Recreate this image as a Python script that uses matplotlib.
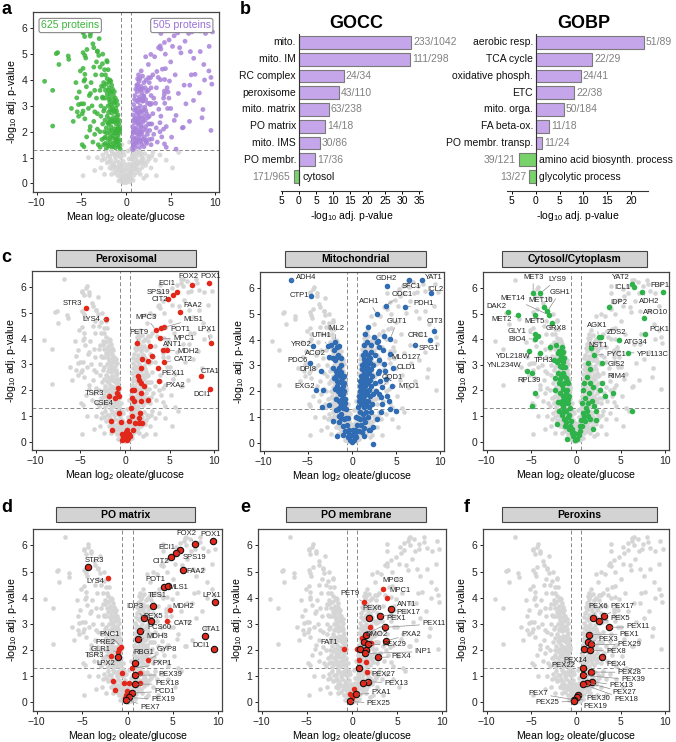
import matplotlib.pyplot as plt
from matplotlib.patches import Rectangle

plt.rcParams['font.family'] = ['Liberation Sans', 'DejaVu Sans']
plt.rcParams['mathtext.fontset'] = 'custom'
plt.rcParams['mathtext.rm'] = 'Liberation Sans'
plt.rcParams['mathtext.it'] = 'Liberation Sans:italic'
plt.rcParams['mathtext.bf'] = 'Liberation Sans:bold'
plt.rcParams['mathtext.default'] = 'regular'

# ---------------- panel b: GO enrichment ----------------
gocc_terms = ['mito.', 'mito. IM', 'RC complex', 'peroxisome', 'mito. matrix',
              'PO matrix', 'mito. IMS', 'PO membr.', 'cytosol']
gocc_vals = [32.7, 32.4, 13.0, 11.6, 8.7, 7.7, 6.0, 4.8, -1.45]
gocc_counts = ['233/1042', '111/298', '24/34', '43/110', '63/238', '14/18',
               '30/86', '17/36', '171/965']

gobp_terms = ['aerobic resp.', 'TCA cycle', 'oxidative phosph.', 'ETC', 'mito. orga.',
              'FA beta-ox.', 'PO membr. transp.', 'amino acid biosynth. process',
              'glycolytic process']
gobp_vals = [22.6, 11.8, 9.4, 8.1, 5.9, 2.85, 1.4, -3.5, -1.3]
gobp_counts = ['51/89', '22/29', '24/41', '22/38', '50/184', '11/18', '11/24',
               '39/121', '13/27']

# ---------------- all quantified proteins (mean log2 ratio, -log10 adj p) ----------------
background = [
    # far left
    (-9.1, 3.95), (-8.2, 3.6), (-8.2, 2.22), (-7.8, 5.02), (-7.5, 4.6), (-6.4, 4.8),
    (-4.8, 5.86), (-4.4, 5.95), (-4.0, 5.7), (-3.7, 5.4), (-3.2, 5.12), (-4.8, 5.06),
    (-4.5, 4.85), (-5.1, 4.35), (-4.8, 4.45), (-4.7, 3.96), (-5.5, 3.31), (-5.3, 3.05),
    (-5.0, 3.08), (-4.8, 2.8), (-4.2, 2.9), (-4.6, 2.5), (-5.3, 2.6), (-4.0, 2.2),
    (-4.9, 1.5), (-4.7, 1.42), (-3.7, 1.6), (-3.4, 4.2), (-3.9, 3.9), (-3.5, 3.6),
    (-4.1, 3.4), (-3.3, 3.3), (-3.8, 3.0), (-3.2, 2.7), (-3.6, 2.4), (-3.2, 2.1),
    (-3.5, 1.9), (-3.1, 1.5), (-5.9, 2.4), (-4.4, 1.8), (-3.3, 4.7), (-3.0, 5.6),
    (-4.3, 6.05), (-3.6, 4.5), (-5.6, 3.9), (-6.1, 2.9),
    # left arm, outer
    (-2.9, 1.4), (-2.7, 1.7), (-2.9, 2.0), (-2.6, 2.3), (-2.8, 2.6), (-2.5, 2.8),
    (-2.8, 3.0), (-2.6, 3.3), (-2.9, 3.6), (-2.5, 3.9), (-2.7, 4.2), (-2.4, 4.4),
    (-2.9, 4.5), (-2.6, 5.0), (-2.5, 1.5), (-2.4, 2.0), (-2.3, 3.6), (-2.1, 4.7),
    (-2.0, 4.4), (-1.8, 4.0), (-2.3, 4.2),
    # left arm, dense
    (-2.2, 1.35), (-1.9, 1.45), (-1.6, 1.4), (-1.4, 1.55), (-1.2, 1.38), (-1.0, 1.5),
    (-0.8, 1.42), (-0.65, 1.33), (-2.3, 1.8), (-2.0, 1.7), (-1.75, 1.9), (-1.5, 1.75),
    (-1.3, 1.95), (-1.1, 1.72), (-0.9, 1.85), (-0.7, 1.68), (-2.2, 2.15), (-1.95, 2.3),
    (-1.7, 2.2), (-1.5, 2.38), (-1.3, 2.12), (-1.1, 2.3), (-0.85, 2.18), (-0.7, 2.05),
    (-2.1, 2.6), (-1.85, 2.5), (-1.6, 2.72), (-1.4, 2.55), (-1.2, 2.75), (-1.0, 2.58),
    (-0.8, 2.45), (-2.0, 3.0), (-1.8, 3.15), (-1.55, 2.95), (-1.35, 3.1), (-1.15, 2.92),
    (-0.95, 3.05), (-2.1, 3.45), (-1.85, 3.35), (-1.6, 3.55), (-1.4, 3.4), (-1.2, 3.3),
    (-2.5, 3.75), (-2.2, 3.85), (-1.9, 3.7), (-1.6, 3.8),
    # core below the cut-off
    (-0.4, 0.05), (-0.2, 0.12), (0.0, 0.03), (0.2, 0.1), (0.4, 0.06), (-0.6, 0.15),
    (0.6, 0.18), (-0.9, 0.3), (-0.6, 0.38), (-0.3, 0.25), (0.0, 0.35), (0.3, 0.28),
    (0.6, 0.4), (0.9, 0.32), (-1.2, 0.4), (1.2, 0.42), (-1.5, 0.55), (-1.2, 0.65),
    (-0.9, 0.58), (-0.6, 0.62), (0.6, 0.55), (0.9, 0.66), (1.2, 0.6), (1.5, 0.52),
    (1.8, 0.62), (-1.8, 0.6), (0.3, 0.5), (-0.3, 0.55), (-2.1, 0.8), (-1.7, 0.9),
    (-1.4, 0.78), (-1.1, 0.88), (-0.8, 0.82), (0.8, 0.8), (1.1, 0.9), (1.4, 0.76),
    (1.7, 0.88), (2.0, 0.8), (2.4, 0.85), (-2.6, 1.1), (-2.2, 1.2), (-1.8, 1.05),
    (-1.5, 1.15), (-1.2, 1.02), (-0.9, 1.2), (-0.7, 1.05), (0.7, 1.1), (0.9, 1.22),
    (1.2, 1.05), (1.5, 1.18), (1.8, 1.0), (2.1, 1.15), (2.5, 1.05), (3.0, 1.2),
    (-3.2, 1.0), (-2.8, 0.6), (-4.8, 0.3), (-3.5, 0.5), (-2.4, 0.35), (2.8, 0.6),
    (3.3, 0.9), (3.8, 1.1), (4.5, 0.9), (5.2, 0.6), (2.3, 0.3), (5.9, 1.2), (-4.2, 1.0),
    (3.4, 0.3), (-0.3, 0.85), (0.3, 0.75), (-0.2, 1.1), (0.2, 1.25), (-0.45, 1.5),
    (0.4, 1.6),
    # right arm, dense
    (0.65, 1.35), (0.85, 1.5), (1.05, 1.4), (1.25, 1.55), (1.5, 1.38), (1.75, 1.52),
    (2.0, 1.42), (2.3, 1.55), (0.7, 1.8), (0.9, 1.95), (1.1, 1.75), (1.3, 1.9),
    (1.55, 1.72), (1.8, 1.98), (2.05, 1.8), (2.4, 1.9), (0.75, 2.2), (0.95, 2.35),
    (1.15, 2.15), (1.4, 2.3), (1.65, 2.18), (1.9, 2.38), (2.2, 2.2), (2.5, 2.3),
    (0.8, 2.65), (1.0, 2.5), (1.25, 2.72), (1.5, 2.55), (1.75, 2.75), (2.0, 2.6),
    (2.3, 2.7), (0.85, 3.05), (1.1, 2.92), (1.35, 3.15), (1.6, 3.0), (1.85, 3.18),
    (2.1, 2.95), (2.4, 3.1), (1.0, 3.4), (1.25, 3.55), (1.5, 3.35), (1.75, 3.5),
    (2.0, 3.38), (2.3, 3.55), (1.2, 3.8), (1.45, 3.95), (1.7, 3.75), (2.0, 3.9),
    (1.4, 4.2), (1.7, 4.35),
    # right arm, outer
    (2.8, 1.5), (3.1, 1.9), (2.7, 2.3), (3.0, 2.7), (2.8, 3.4), (3.3, 3.1), (3.5, 1.6),
    (3.8, 2.0), (2.6, 3.9), (3.0, 4.2), (3.4, 3.7), (2.5, 4.6), (2.2, 4.9), (3.9, 2.6),
    (4.2, 3.3), (3.6, 4.1), (4.5, 1.4), (4.0, 1.8),
    # far right
    (3.2, 4.9), (3.9, 5.2), (4.3, 5.45), (5.3, 5.95), (5.8, 6.1), (6.3, 6.3), (6.9, 6.25),
    (8.0, 6.15), (8.3, 5.9), (7.0, 5.8), (6.6, 5.5), (5.2, 5.3), (4.4, 5.0), (5.0, 4.7),
    (7.2, 5.1), (8.3, 5.1), (9.3, 5.3), (8.7, 4.6), (9.5, 4.1), (7.3, 4.2), (6.5, 3.8),
    (8.2, 3.5), (8.6, 2.86), (7.1, 2.4), (6.3, 2.15), (4.8, 3.3), (5.0, 2.9), (4.6, 3.7),
    (3.9, 5.8), (5.5, 4.2), (5.6, 2.63), (5.4, 2.44), (6.7, 3.08), (7.55, 3.21),
    (5.1, 1.79), (4.3, 1.53), (5.6, 1.33), (6.4, 2.17), (4.2, 2.1),
]
# extra proteins filling the dense arms and the core of the volcano
left_arm_dense = [
    (-2.05, 1.5), (-1.75, 1.6), (-1.45, 1.45), (-1.15, 1.6), (-0.9, 1.62), (-0.72, 1.5),
    (-2.15, 1.95), (-1.85, 2.05), (-1.6, 2.05), (-1.4, 1.85), (-1.2, 2.0), (-1.0, 2.1),
    (-0.8, 1.95), (-2.05, 2.35), (-1.8, 2.38), (-1.6, 2.45), (-1.35, 2.4), (-1.15, 2.45),
    (-0.95, 2.4), (-0.78, 2.3), (-1.95, 2.75), (-1.75, 2.85), (-1.5, 2.85), (-1.3, 2.8),
    (-1.05, 2.8), (-0.9, 2.65), (-1.9, 3.25), (-1.7, 3.05), (-1.45, 3.25), (-1.25, 3.15),
    (-1.05, 3.2), (-2.0, 3.6), (-1.75, 3.5), (-1.5, 3.65), (-1.3, 3.55), (-2.35, 3.3),
    (-2.4, 2.9), (-2.35, 2.45), (-2.45, 1.75), (-2.3, 1.55), (-1.7, 3.95), (-2.1, 4.05),
]
right_arm_dense = [
    (0.75, 1.6), (0.95, 1.72), (1.15, 1.6), (1.4, 1.68), (1.65, 1.62), (1.9, 1.7),
    (2.2, 1.68), (0.8, 2.0), (1.0, 2.1), (1.2, 2.0), (1.45, 2.05), (1.7, 1.9), (1.95, 2.1),
    (2.3, 2.05), (0.85, 2.45), (1.1, 2.55), (1.35, 2.45), (1.6, 2.38), (1.85, 2.5),
    (2.15, 2.45), (2.45, 2.55), (0.9, 2.85), (1.15, 2.8), (1.4, 2.9), (1.65, 2.8),
    (1.95, 2.85), (2.2, 2.82), (0.95, 3.25), (1.2, 3.2), (1.45, 3.25), (1.7, 3.25),
    (1.95, 3.2), (2.2, 3.25), (1.1, 3.65), (1.35, 3.7), (1.6, 3.62), (1.85, 3.65),
    (2.15, 3.7), (1.3, 4.05), (1.55, 4.05), (1.85, 4.15), (2.25, 4.0), (2.6, 1.7),
    (2.65, 2.05), (2.6, 2.6), (2.7, 3.05), (2.5, 3.6),
]
core_dense = [
    (-0.5, 0.25), (-0.15, 0.3), (0.15, 0.22), (0.45, 0.2), (-0.75, 0.5), (-0.45, 0.45),
    (0.45, 0.42), (0.75, 0.5), (1.05, 0.55), (-1.05, 0.5), (-1.35, 0.68), (-0.75, 0.72),
    (-0.5, 0.7), (0.5, 0.68), (0.75, 0.7), (1.0, 0.72), (1.3, 0.85), (-1.6, 0.72),
    (-1.9, 0.85), (-1.3, 1.15), (-1.05, 1.08), (-0.8, 1.15), (-0.55, 1.0), (0.55, 0.95),
    (0.8, 0.95), (1.05, 1.15), (1.35, 1.25), (1.65, 1.1), (1.95, 0.95), (2.2, 0.7),
    (-2.4, 0.95), (-2.0, 1.05), (-1.6, 1.25), (-0.1, 0.5), (0.1, 0.6), (-0.1, 0.72),
    (0.35, 0.95), (-0.35, 1.2), (2.6, 0.95), (2.9, 1.05), (-2.7, 0.9), (1.6, 0.35),
    (-1.6, 0.35), (2.0, 0.2), (-0.8, 0.1), (0.8, 0.12),
]

# named proteins (mean log2 oleate/glucose, -log10 adj. p-value)
proteins = {
    'POX1': (9.4, 6.18), 'FOX2': (7.45, 6.07), 'ECI1': (5.78, 5.82), 'SPS19': (5.38, 5.71),
    'CIT2': (4.82, 5.55), 'FAA2': (6.15, 5.05), 'MLS1': (4.41, 4.44), 'POT1': (4.07, 4.42),
    'MPC3': (3.45, 4.33), 'MPC1': (3.86, 4.01), 'LPX1': (9.6, 3.84), 'PET9': (1.32, 3.82),
    'ANT1': (4.29, 3.57), 'MDH2': (4.7, 3.54), 'CAT2': (4.33, 3.1), 'PEX11': (3.67, 2.87),
    'PXA2': (3.8, 2.35), 'CTA1': (8.5, 2.54), 'DCI1': (9.5, 2.05), 'STR3': (-4.37, 5.18),
    'LYS4': (-2.15, 4.75), 'TSR3': (-1.8, 1.77), 'CSE4': (-1.15, 1.69), 'TES1': (2.8, 3.7),
    'IDP3': (1.85, 3.21), 'PEX5': (2.62, 3.1), 'PCS60': (1.42, 2.73), 'MDH3': (1.13, 2.42),
    'LPX2': (-1.02, 1.73), 'GLR1': (-1.05, 1.94), 'PRE2': (-0.9, 2.05), 'PNC1': (-0.72, 2.12),
    'RBG1': (0.87, 1.5), 'GYP8': (2.25, 1.61), 'PXP1': (0.51, 1.3), 'PEX39': (0.8, 1.04),
    'PEX18': (0.8, 0.69), 'PCD1': (0.5, 0.36), 'PEX19': (0.12, 0.19), 'PEX7': (-0.18, 0.1),
    'PEX6': (1.88, 3.24), 'PEX17': (3.1, 3.3), 'PEX1': (1.5, 2.59), 'PEX3': (1.34, 2.32),
    'PEX29': (1.72, 2.22), 'PEX8': (1.6, 2.0), 'PEX14': (0.85, 2.04), 'PEX4': (2.9, 1.72),
    'PEX22': (0.78, 1.31), 'PEX28': (1.72, 1.16), 'PEX13': (1.76, 0.79), 'PEX27': (1.22, 0.75),
    'PEX30': (0.24, 0.28), 'PEX25': (-0.24, 0.04), 'PXA1': (0.42, 0.31), 'DMO2': (1.13, 2.45),
    'INP1': (1.48, 1.87), 'FAT1': (-0.83, 2.04),
    # mitochondrial
    'ADH4': (-6.87, 6.31), 'CTP1': (-4.62, 5.68), 'GDH2': (3.9, 6.07), 'SFC1': (6.45, 6.31),
    'YAT1': (7.95, 6.31), 'ICL2': (8.89, 5.8), 'ODC1': (3.83, 5.32), 'PDH1': (6.0, 5.25),
    'ACH1': (2.78, 4.99), 'GUT1': (4.32, 4.02), 'CIT3': (9.27, 4.35), 'CRC1': (8.78, 4.0),
    'SPG1': (7.13, 3.8), 'MLO127': (4.28, 3.44), 'CLD1': (4.65, 2.9), 'CQD1': (3.38, 2.15),
    'MTO1': (4.5, 2.2), 'IML2': (-1.88, 3.92), 'UTH1': (-2.74, 3.76), 'YRO2': (-4.43, 3.74),
    'ACO2': (-2.63, 3.34), 'PDC6': (-4.73, 3.08), 'DPI8': (-3.49, 2.77), 'EXG2': (-4.05, 2.06),
    # cytosolic
    'MET3': (-4.79, 5.82), 'LYS9': (-3.97, 5.8), 'MET10': (-3.6, 5.25), 'GSH1': (-3.2, 5.1),
    'MET14': (-3.05, 4.95), 'DAK2': (-7.64, 5.06), 'MET2': (-6.46, 4.93), 'MET5': (-4.6, 4.95),
    'GRX8': (-2.63, 4.63), 'GLY1': (-4.6, 4.22), 'BIO4': (-4.6, 4.02), 'YDL218W': (-5.23, 3.54),
    'TPH3': (-3.97, 3.48), 'YNL234W': (-5.45, 2.77), 'RPL39': (-4.9, 2.69), 'YAT2': (6.23, 6.18),
    'ICL1': (6.46, 6.03), 'FBP1': (9.68, 5.86), 'ADH2': (7.38, 5.86), 'IDP2': (3.64, 5.25),
    'ARO10': (7.57, 4.84), 'PCK1': (7.72, 4.22), 'AGX1': (2.52, 4.09), 'ZDS2': (2.75, 4.09),
    'ATG34': (4.86, 3.96), 'YPL113C': (5.86, 3.48), 'NST1': (1.63, 3.64), 'PYC1': (1.97, 3.38),
    'GIS2': (2.86, 3.09), 'RIM4': (2.89, 2.3),
}

# panel c: localisation groups (named + unnamed members)
peroxisomal = ['POX1', 'FOX2', 'ECI1', 'SPS19', 'CIT2', 'FAA2', 'MPC3', 'MLS1', 'POT1', 'LPX1',
               'PET9', 'MPC1', 'ANT1', 'MDH2', 'CAT2', 'PEX11', 'CTA1', 'PXA2', 'DCI1',
               'STR3', 'LYS4', 'TSR3', 'CSE4']
peroxisomal_other = [
    (2.8, 3.7), (1.89, 3.22), (2.56, 3.12), (3.0, 3.31), (1.81, 2.86), (1.44, 2.54),
    (1.59, 2.41), (1.81, 2.28), (2.07, 2.15), (0.78, 2.02), (1.0, 2.02), (1.78, 1.89),
    (0.78, 1.69), (0.96, 1.57), (2.56, 1.63), (1.74, 1.57), (-0.78, 2.08), (-0.89, 1.89),
    (-0.63, 1.76), (0.7, 1.31), (-0.7, 1.11), (0.78, 0.98), (1.7, 1.11), (1.52, 0.92),
    (0.48, 0.79), (1.15, 0.72), (1.52, 0.72), (1.89, 0.72), (-1.52, 0.79), (-0.41, 0.75),
    (-1.44, 0.44), (0.2, 0.45), (-0.3, 0.3), (0.1, 0.25), (0.4, 0.3), (-0.1, 0.1),
    (0.2, 0.05), (-0.2, 0.18), (0.05, 0.15), (0.3, 0.12), (-0.35, 0.05), (0.55, 0.2),
    (0.1, 0.38), (0.9, 0.45),
]
mitochondrial = ['ADH4', 'CTP1', 'GDH2', 'SFC1', 'YAT1', 'ICL2', 'ODC1', 'PDH1', 'ACH1', 'GUT1',
                 'CIT3', 'CRC1', 'SPG1', 'MLO127', 'CLD1', 'CQD1', 'MTO1', 'IML2', 'UTH1',
                 'YRO2', 'ACO2', 'PDC6', 'DPI8', 'EXG2']
mitochondrial_other = [
    (-2.4, 3.8), (-2.0, 3.6), (-1.7, 3.7), (-1.43, 3.76), (-2.2, 3.3), (-1.9, 3.2),
    (-1.6, 3.4), (-1.3, 3.3), (-2.1, 2.9), (-1.8, 2.8), (-1.5, 2.9), (-1.2, 3.0),
    (-2.0, 2.5), (-1.7, 2.4), (-1.4, 2.6), (-1.1, 2.5), (-0.9, 2.3), (-1.9, 2.1),
    (-1.6, 2.0), (-1.3, 2.1), (-1.0, 1.9), (-0.8, 1.7), (-1.8, 1.7), (-1.5, 1.6),
    (-1.2, 1.5), (-0.9, 1.4), (-0.7, 1.3), (-1.6, 1.3), (-3.3, 2.06), (-2.55, 1.44),
    (-3.38, 1.4), (-1.73, 0.25), (-2.18, 0.83), (-1.5, 1.05), (-1.73, 3.31),
    (-1.2, 1.1), (-0.9, 0.9), (-0.6, 0.7), (-0.3, 0.5), (0.0, 0.3), (0.3, 0.5), (0.6, 0.7),
    (0.9, 0.9), (1.2, 1.1), (-0.5, 0.2), (0.5, 0.2), (-0.2, 0.1), (0.2, 0.1), (0.0, 0.02),
    (-0.8, 0.45), (0.8, 0.45), (1.5, 0.8), (1.8, 1.0), (2.1, 1.2), (-1.5, 0.8), (1.1, 0.4),
    (1.4, 0.55), (2.4, 0.6), (2.0, 0.5), (-1.0, 0.3), (2.8, 0.9), (-1.8, 1.25), (0.4, 1.0),
    (-0.4, 0.95), (1.39, 0.27), (2.33, -0.05), (1.95, 0.47), (0.08, 0.47),
    (0.7, 1.4), (1.0, 1.5), (1.3, 1.4), (1.6, 1.5), (1.9, 1.4), (2.3, 1.5), (0.8, 1.8),
    (1.1, 1.9), (1.4, 1.8), (1.7, 1.9), (2.0, 1.8), (2.4, 1.9), (0.9, 2.2), (1.2, 2.3),
    (1.5, 2.2), (1.8, 2.3), (2.1, 2.2), (2.6, 2.3), (1.0, 2.6), (1.3, 2.7), (1.6, 2.6),
    (1.9, 2.7), (2.3, 2.6), (1.1, 3.0), (1.4, 3.1), (1.7, 3.0), (2.0, 3.1), (2.4, 3.0),
    (1.2, 3.4), (1.5, 3.5), (1.8, 3.4), (2.2, 3.5), (2.6, 3.4), (1.4, 3.8), (1.7, 3.9),
    (2.1, 3.8), (1.5, 4.2), (1.8, 4.5), (2.5, 4.1), (2.8, 3.9), (3.0, 3.2), (2.9, 2.7),
    (3.2, 2.4), (3.0, 1.9), (3.4, 1.5), (3.7, 2.8), (3.5, 3.6), (4.0, 1.8), (4.3, 1.3),
    (3.3, 1.2), (3.64, 3.05), (3.08, 2.79), (3.83, 2.47), (2.7, 2.02), (3.26, 1.76),
    (4.2, 1.63), (4.95, 1.24), (2.89, 3.96), (3.08, 3.7), (3.64, 4.15),
    (-1.85, 2.6), (-1.55, 2.7), (-1.25, 2.75), (-0.95, 2.6), (-1.65, 2.2), (-1.35, 2.35),
    (-1.05, 2.2), (-0.85, 2.0), (-1.4, 1.9), (-1.1, 1.7), (-0.75, 1.55), (-1.35, 1.4),
    (-1.05, 1.35), (0.75, 1.6), (1.15, 1.65), (1.45, 1.62), (1.85, 1.6), (0.85, 2.0),
    (1.25, 2.05), (1.6, 2.0), (1.95, 2.05), (0.95, 2.4), (1.35, 2.45), (1.7, 2.45),
    (2.0, 2.45), (1.15, 2.85), (1.5, 2.85), (1.85, 2.85), (2.2, 2.85), (1.3, 3.25),
    (1.65, 3.2), (2.0, 3.3), (-0.5, 0.45), (0.5, 0.45), (-0.7, 0.95), (0.7, 0.95),
    (1.0, 0.7), (-1.0, 0.65), (-0.3, 0.3), (0.3, 0.3), (1.3, 0.9), (1.6, 1.2), (0.9, 1.2),
    (-1.3, 0.95),
]
cytosolic = ['MET3', 'LYS9', 'GSH1', 'MET14', 'MET10', 'DAK2', 'MET2', 'MET5', 'GRX8', 'GLY1',
             'BIO4', 'YDL218W', 'TPH3', 'YNL234W', 'RPL39', 'YAT2', 'ICL1', 'FBP1', 'ADH2',
             'IDP2', 'ARO10', 'PCK1', 'AGX1', 'ZDS2', 'ATG34', 'NST1', 'YPL113C', 'PYC1',
             'GIS2', 'RIM4']
cytosolic_other = [
    (-2.2, 3.76), (-1.6, 3.7), (-2.0, 3.45), (-1.7, 3.3), (-1.4, 3.5), (-2.1, 3.1),
    (-1.8, 2.95), (-1.5, 3.1), (-1.2, 2.9), (-2.0, 2.7), (-1.7, 2.6), (-1.4, 2.7),
    (-1.1, 2.5), (-0.9, 2.3), (-1.9, 2.3), (-1.6, 2.2), (-1.3, 2.3), (-1.0, 2.0),
    (-0.8, 1.8), (-1.8, 1.9), (-1.5, 1.8), (-1.2, 1.7), (-0.9, 1.5), (-0.7, 1.3),
    (-1.7, 1.5), (-1.4, 1.35), (-1.1, 1.2), (-1.6, 1.05), (-1.3, 0.9), (-0.9, 0.95),
    (-0.6, 0.8), (-1.2, 0.6), (-0.8, 0.5), (-0.5, 0.35), (-0.3, 0.2), (-0.1, 0.05),
    (0.1, 0.1), (0.3, 0.25), (0.5, 0.4), (0.7, 0.6), (1.0, 0.8), (1.3, 1.0), (1.6, 0.9),
    (0.8, 1.1), (-2.3, 2.5), (-2.4, 2.0), (-2.5, 3.2), (-1.9, 1.2), (-2.1, 0.7),
    (-1.0, 0.1), (-4.23, 4.11), (-4.6, 1.89), (-4.9, 1.41), (-2.93, 3.7),
    (1.3, 3.08), (1.52, 2.82), (1.22, 2.54), (1.6, 2.3), (1.89, 2.15), (2.63, 2.02),
    (3.19, 1.8), (4.1, 1.89), (2.26, 1.18), (2.26, 0.85), (0.8, 2.0), (1.0, 1.7),
    (1.3, 1.5), (0.7, 1.5), (1.1, 1.3), (1.8, 1.6), (1.5, 1.9), (0.9, 2.3), (2.0, 1.4),
    (1.9, 0.5), (6.23, 1.2),
    (-1.85, 3.55), (-1.55, 3.45), (-1.85, 3.2), (-1.35, 3.25), (-1.6, 2.9), (-1.3, 2.55),
    (-1.05, 2.35), (-1.75, 2.45), (-1.45, 2.05), (-1.15, 1.9), (-0.85, 1.65), (-1.55, 1.6),
    (-1.25, 1.5), (-0.8, 1.05), (-1.1, 0.75), (-0.7, 0.6), (-0.4, 0.5), (-0.2, 0.35),
    (0.2, 0.3), (0.4, 0.6), (0.6, 0.85), (0.9, 1.0), (1.2, 1.2), (-1.4, 1.15), (-2.0, 1.55),
]

# panels d-f
po_matrix = ['POX1', 'FOX2', 'ECI1', 'SPS19', 'CIT2', 'STR3', 'FAA2', 'POT1', 'MLS1', 'LPX1',
             'TES1', 'IDP3', 'PEX5', 'PCS60', 'MDH3', 'CTA1', 'DCI1', 'LPX2', 'RBG1',
             'PEX39', 'PEX18', 'PCD1', 'PEX19', 'PEX7']
po_matrix_red = ['LYS4', 'MDH2', 'CAT2', 'GYP8', 'PXP1', 'TSR3', 'GLR1', 'PRE2', 'PNC1']
po_matrix_other = [(-0.58, 1.12), (-1.56, 0.8), (-0.4, 0.75), (0.15, 0.74), (1.42, 0.74),
                   (1.42, 1.12), (-1.38, 0.46), (-0.2, 0.3), (0.0, 0.2), (-0.3, 0.15),
                   (0.1, 0.35), (-0.1, 0.45)]
po_membrane = ['ANT1', 'PEX6', 'PEX17', 'PEX11', 'PEX1', 'PXA2', 'PEX3', 'PEX14', 'PEX8',
               'PEX29', 'INP1', 'PEX4', 'PEX22', 'PEX13', 'PEX27', 'PXA1', 'PEX25']
po_membrane_red = ['MPC3', 'MPC1', 'PET9', 'FAT1', 'DMO2']
po_membrane_other = [(1.94, 2.87), (2.06, 2.26), (0.57, 2.03), (0.76, 1.62), (1.5, 1.56),
                     (1.69, 1.15), (0.17, 0.52), (-0.2, 0.32), (0.0, 0.16)]
peroxins = ['PEX6', 'PEX17', 'PEX5', 'PEX11', 'PEX1', 'PEX3', 'PEX29', 'PEX14', 'PEX8',
            'PEX4', 'PEX22', 'PEX28', 'PEX39', 'PEX13', 'PEX27', 'PEX18', 'PEX30', 'PEX19',
            'PEX7', 'PEX25']

# label placement (data coords of the text)
labels_c1 = {'POX1': (9.6, 6.42), 'FOX2': (7.1, 6.42), 'ECI1': (4.67, 6.13),
             'SPS19': (3.74, 5.8), 'CIT2': (3.93, 5.51), 'FAA2': (7.56, 5.28),
             'MPC3': (2.37, 4.84), 'MLS1': (7.63, 4.76), 'POT1': (6.15, 4.37),
             'LPX1': (9.11, 4.37), 'PET9': (1.59, 4.22), 'MPC1': (6.56, 4.01),
             'ANT1': (5.3, 3.76), 'MDH2': (7.07, 3.51), 'CAT2': (6.52, 3.18),
             'PEX11': (5.41, 2.64), 'CTA1': (9.48, 2.73), 'PXA2': (5.59, 2.17),
             'DCI1': (8.67, 1.84), 'STR3': (-5.89, 5.36), 'LYS4': (-3.74, 4.76),
             'TSR3': (-3.41, 1.88), 'CSE4': (-2.37, 1.46)}
labels_c2 = {'ADH4': (-5.18, 6.42), 'CTP1': (-6.0, 5.73), 'GDH2': (3.9, 6.38),
             'YAT1': (9.19, 6.42), 'SFC1': (6.72, 6.05), 'ICL2': (9.46, 5.94),
             'ODC1': (5.7, 5.77), 'ACH1': (1.95, 5.49), 'PDH1': (8.07, 5.42),
             'GUT1': (5.07, 4.71), 'CIT3': (9.38, 4.71), 'CRC1': (7.47, 4.15),
             'SPG1': (8.71, 3.67), 'MLO127': (6.15, 3.31), 'CLD1': (6.15, 2.92),
             'CQD1': (4.5, 2.54), 'MTO1': (6.45, 2.17), 'IML2': (-1.8, 4.45),
             'UTH1': (-3.49, 4.15), 'YRO2': (-5.74, 3.83), 'ACO2': (-4.13, 3.47),
             'PDC6': (-6.12, 3.18), 'DPI8': (-4.99, 2.82), 'EXG2': (-5.37, 2.17)}
labels_c3 = {'MET3': (-4.79, 6.42), 'LYS9': (-2.11, 6.35), 'GSH1': (-1.82, 5.83),
             'MET14': (-7.09, 5.6), 'MET10': (-3.97, 5.51), 'DAK2': (-8.9, 5.28),
             'MET2': (-8.31, 4.76), 'MET5': (-4.68, 4.7), 'GRX8': (-2.19, 4.41),
             'GLY1': (-6.64, 4.31), 'BIO4': (-6.53, 4.0), 'YDL218W': (-7.0, 3.31),
             'TPH3': (-3.67, 3.16), 'YNL234W': (-8.0, 2.99), 'RPL39': (-5.23, 2.37),
             'YAT2': (5.05, 6.42), 'ICL1': (5.23, 6.03), 'FBP1': (9.4, 6.12),
             'ADH2': (8.2, 5.48), 'IDP2': (4.79, 5.45), 'ARO10': (8.94, 5.06),
             'PCK1': (9.31, 4.37), 'AGX1': (2.34, 4.54), 'ZDS2': (4.49, 4.28),
             'ATG34': (6.64, 3.86), 'NST1': (2.45, 3.74), 'YPL113C': (8.6, 3.42),
             'PYC1': (4.49, 3.42), 'GIS2': (4.49, 3.01), 'RIM4': (4.49, 2.54)}
labels_d = {'FOX2': (6.5, 6.45), 'POX1': (9.13, 6.42), 'ECI1': (4.33, 5.94),
            'SPS19': (7.42, 5.53), 'CIT2': (3.67, 5.39), 'STR3': (-3.6, 5.43),
            'LYS4': (-3.49, 4.63), 'FAA2': (7.53, 5.01), 'POT1': (3.05, 4.71),
            'MLS1': (5.6, 4.38), 'LPX1': (9.24, 4.1), 'TES1': (3.31, 4.07),
            'MDH2': (6.15, 3.68), 'IDP3': (0.76, 3.65), 'PEX5': (2.8, 3.3),
            'CAT2': (6.15, 3.0), 'PCS60': (3.53, 2.86), 'CTA1': (9.24, 2.79),
            'MDH3': (3.24, 2.51), 'DCI1': (8.15, 2.17), 'PNC1': (-1.93, 2.61),
            'PRE2': (-2.4, 2.3), 'GYP8': (4.33, 2.03), 'GLR1': (-2.95, 2.03),
            'RBG1': (1.78, 1.9), 'TSR3': (-3.67, 1.81), 'LPX2': (-2.4, 1.47),
            'PXP1': (3.78, 1.47), 'PEX39': (4.69, 1.05), 'PEX18': (4.33, 0.71),
            'PCD1': (4.07, 0.42), 'PEX19': (3.89, 0.1), 'PEX7': (2.51, -0.18)}
labels_e = {'MPC3': (4.54, 4.67), 'MPC1': (5.28, 4.29), 'PET9': (-0.28, 4.16),
            'ANT1': (6.02, 3.76), 'PEX6': (2.2, 3.59), 'PEX17': (6.2, 3.44),
            'PEX1': (4.91, 3.19), 'PEX11': (9.06, 3.0), 'PXA2': (6.5, 2.61),
            'DMO2': (2.69, 2.58), 'FAT1': (-2.5, 2.28), 'PEX29': (4.72, 2.2),
            'INP1': (7.87, 1.94), 'PEX4': (5.39, 1.75), 'PEX27': (3.43, 1.05),
            'PEX13': (4.91, 0.74), 'PXA1': (3.24, 0.36), 'PEX25': (2.94, -0.05)}
labels_f = {'PEX6': (2.46, 3.65), 'PEX17': (5.19, 3.68), 'PEX5': (4.96, 3.21),
            'PEX11': (6.94, 2.89), 'PEX1': (6.0, 2.61), 'PEX3': (3.58, 2.42),
            'PEX29': (6.0, 2.2), 'PEX8': (4.51, 1.94), 'PEX14': (-0.04, 1.62),
            'PEX4': (4.51, 1.46), 'PEX22': (-1.46, 1.4), 'PEX28': (6.0, 1.15),
            'PEX39': (6.38, 0.86), 'PEX13': (5.07, 0.63), 'PEX27': (5.45, 0.38),
            'PEX18': (5.63, 0.1), 'PEX30': (2.46, 0.13), 'PEX19': (2.2, -0.15),
            'PEX7': (-4.25, 0.33), 'PEX25': (-3.21, 0.0)}

# ---------------- figure ----------------
W, H = 676, 742
fig = plt.figure(figsize=(W / 100, H / 100), dpi=100)

GREY = '#d5d5d5'
RED = '#e2281b'
BLUE = '#2f6cb3'
CGREEN = '#2db34a'


def px_axes(l, t, r, b):
    return fig.add_axes([l / W, 1 - b / H, (r - l) / W, (b - t) / H])


def all_points():
    pts = background + left_arm_dense + right_arm_dense + core_dense
    pts += [proteins[k] for k in proteins]
    return pts


def style_volcano(ax):
    ax.set_xlim(-10.4, 10.4)
    ax.set_ylim(-0.33, 6.63)
    ax.set_xticks([-10, -5, 0, 5, 10])
    ax.set_yticks(range(7))
    ax.tick_params(labelsize=7.5, length=2.5, width=0.7, pad=1.5, colors='#222')
    for s in ax.spines.values():
        s.set_linewidth(0.9)
        s.set_color('#444')
    for xv in (-0.58, 0.58):
        ax.axvline(xv, color='#888', lw=0.7, ls=(0, (4, 2.5)), zorder=1)
    ax.axhline(1.3, color='#888', lw=0.7, ls=(0, (4, 2.5)), zorder=1)
    ax.set_xlabel('Mean log$_2$ oleate/glucose', fontsize=7.6, labelpad=1.5)
    ax.set_ylabel('-log$_{10}$ adj. p-value', fontsize=7.6, labelpad=2)


def grey_cloud(ax):
    pts = all_points()
    ax.scatter([p[0] for p in pts], [p[1] for p in pts], s=11, color=GREY,
               linewidths=0, zorder=2)


def add_labels(ax, labels):
    for name, (tx, ty) in labels.items():
        x, y = proteins[name]
        gap_x = max(0.0, abs(tx - x) * 9 - len(name) * 2.3)
        gap_y = max(0.0, abs(ty - y) * 26 - 4)
        long_line = (gap_x ** 2 + gap_y ** 2) ** 0.5 > 5
        ax.annotate(name, xy=(x, y), xytext=(tx, ty), fontsize=5.5, color='#222',
                    ha='center', va='center', zorder=6, annotation_clip=False,
                    arrowprops=dict(arrowstyle='-', color='#8c8c8c', lw=0.5,
                                    shrinkA=0, shrinkB=2) if long_line else None)


def title_box(l, t, r, b, text):
    fig.add_artist(Rectangle((l / W, 1 - b / H), (r - l) / W, (b - t) / H,
                             transform=fig.transFigure, fc='#d3d3d3', ec='#444', lw=0.8))
    fig.text((l + r) / 2 / W, 1 - (t + b) / 2 / H, text, ha='center', va='center',
             fontsize=7.5, fontweight='bold')


# ---- panel a ----
ax = px_axes(33, 12, 219, 192)
pts = all_points()
col = []
for x, y in pts:
    if y > 1.3 and x < -0.58:
        col.append('#3cb43c')
    elif y > 1.3 and x > 0.58:
        col.append('#a882db')
    else:
        col.append(GREY)
ax.scatter([p[0] for p in pts], [p[1] for p in pts], s=12, c=col, alpha=0.85,
           linewidths=0, zorder=2)
style_volcano(ax)
ax.text(0.2, 0.925, '625 proteins', transform=ax.transAxes, color='#3cb43c', fontsize=7.6,
        ha='center', va='center', bbox=dict(boxstyle='round,pad=0.2', fc='white', ec='#888', lw=0.8))
ax.text(0.8, 0.925, '505 proteins', transform=ax.transAxes, color='#9a6fd6', fontsize=7.6,
        ha='center', va='center', bbox=dict(boxstyle='round,pad=0.2', fc='white', ec='#888', lw=0.8))


# ---- panel b ----
def go_panel(ax, terms, vals, counts, xlim, ticks):
    n = len(terms)
    colors = ['#c6a6ea' if v > 0 else '#78d36b' for v in vals]
    ax.barh(range(n), vals, height=0.76, color=colors, edgecolor='#7a7a7a', lw=0.8, zorder=2)
    ax.set_ylim(n - 0.5, -0.5)
    ax.set_xlim(*xlim)
    ax.set_yticks([])
    ax.set_xticks(ticks)
    ax.set_xticklabels([str(abs(t)) for t in ticks])
    ax.tick_params(axis='x', labelsize=7.5, length=2.5, width=0.7, pad=1.5)
    ax.spines['top'].set_visible(False)
    ax.spines['right'].set_visible(False)
    ax.spines['left'].set_position(('data', 0))
    ax.spines['bottom'].set_position(('outward', 4))
    for s in ('left', 'bottom'):
        ax.spines[s].set_linewidth(0.8)
        ax.spines[s].set_color('#333')
    ax.set_xlabel('-log$_{10}$ adj. p-value', fontsize=7.5, labelpad=2)
    for i, (t, v, c) in enumerate(zip(terms, vals, counts)):
        if v > 0:
            ax.annotate(t, xy=(0, i), xytext=(-2, 0), textcoords='offset points',
                        ha='right', va='center', fontsize=7.5, color='#111')
            ax.annotate(c, xy=(v, i), xytext=(1.5, 0), textcoords='offset points',
                        ha='left', va='center', fontsize=7.5, color='#808080')
        else:
            ax.annotate(t, xy=(0, i), xytext=(2.5, 0), textcoords='offset points',
                        ha='left', va='center', fontsize=7.5, color='#111')
            ax.annotate(c, xy=(v, i), xytext=(-2.5, 0), textcoords='offset points',
                        ha='right', va='center', fontsize=7.5, color='#808080')


ax = px_axes(281, 34, 422, 185)
go_panel(ax, gocc_terms, gocc_vals, gocc_counts, (-5.2, 35.8), [-5, 0, 5, 10, 15, 20, 25, 30, 35])
fig.text(356 / W, 1 - 23 / H, 'GOCC', ha='center', va='center', fontsize=13, fontweight='bold')
ax = px_axes(507, 34, 648, 185)
go_panel(ax, gobp_terms, gobp_vals, gobp_counts, (-6.0, 23.5), [-5, 0, 5, 10, 15, 20])
fig.text(584 / W, 1 - 23 / H, 'GOBP', ha='center', va='center', fontsize=13, fontweight='bold')


# ---- panels c ----
def group_panel(rect, names, others, color, labels):
    ax = px_axes(*rect)
    grey_cloud(ax)
    xs = [p[0] for p in others] + [proteins[k][0] for k in names]
    ys = [p[1] for p in others] + [proteins[k][1] for k in names]
    ax.scatter(xs, ys, s=16, color=color, linewidths=0, zorder=4)
    style_volcano(ax)
    add_labels(ax, labels)
    return ax


group_panel((32, 271, 218, 450), peroxisomal, peroxisomal_other, RED, labels_c1)
title_box(56, 250, 196, 267, 'Peroxisomal')
group_panel((260, 272, 444, 451), mitochondrial, mitochondrial_other, BLUE, labels_c2)
title_box(285, 251, 426, 267, 'Mitochondrial')
group_panel((483, 272, 669, 450), cytosolic, cytosolic_other, CGREEN, labels_c3)
title_box(502, 251, 647, 267, 'Cytosol/Cytoplasm')


# ---- panels d-f ----
def po_panel(rect, ringed, red, others, labels):
    ax = px_axes(*rect)
    grey_cloud(ax)
    xs = [p[0] for p in others] + [proteins[k][0] for k in red]
    ys = [p[1] for p in others] + [proteins[k][1] for k in red]
    ax.scatter(xs, ys, s=16, color=RED, linewidths=0, zorder=4)
    ax.scatter([proteins[k][0] for k in ringed], [proteins[k][1] for k in ringed], s=21,
               color=RED, edgecolors='#111', linewidths=0.8, zorder=5)
    style_volcano(ax)
    add_labels(ax, labels)
    return ax


po_panel((33, 529, 222, 711), po_matrix, po_matrix_red, po_matrix_other, labels_d)
title_box(56, 507, 195, 522, 'PO matrix')
po_panel((258, 529, 446, 711), po_membrane, po_membrane_red, po_membrane_other, labels_e)
title_box(286, 507, 426, 522, 'PO membrane')
po_panel((483, 529, 669, 711), peroxins, [], [], labels_f)
title_box(502, 507, 657, 522, 'Peroxins')

# panel letters
for letter, x, y in [('a', 1, 9), ('b', 240, 9), ('c', 1, 258), ('d', 1, 508),
                     ('e', 240, 508), ('f', 464, 508)]:
    fig.text(x / W, 1 - y / H, letter, ha='left', va='center', fontsize=13, fontweight='bold')

fig.savefig('out.png', dpi=100)
